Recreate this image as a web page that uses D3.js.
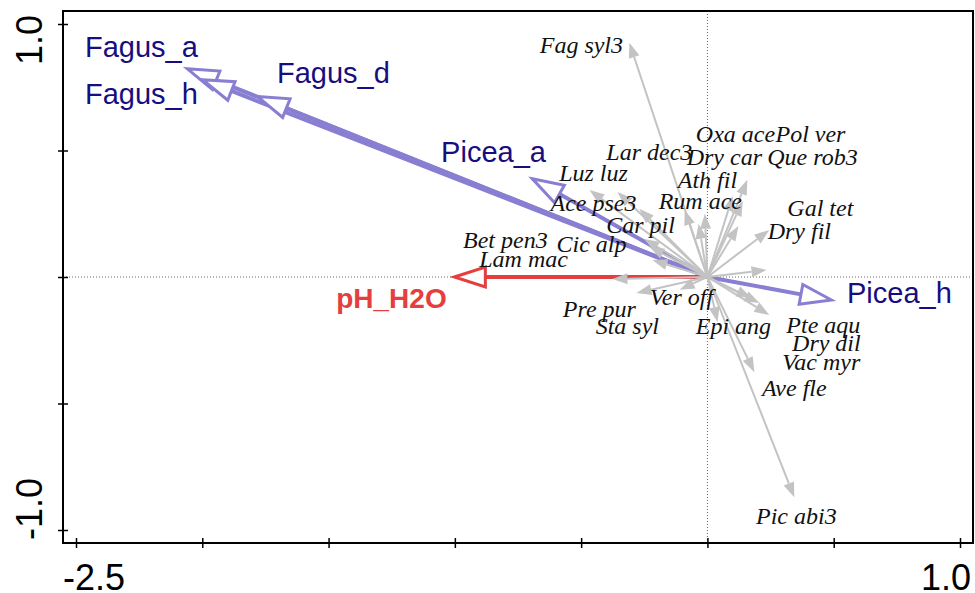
<!DOCTYPE html>
<html>
<head>
<meta charset="utf-8">
<script src="https://cdn.jsdelivr.net/npm/d3@7"></script>
<style>
  body { margin: 0; background: #fff; }
</style>
</head>
<body>
<svg id="chart" width="975" height="593"></svg>
<script>
// environmental variables (arrow tips, label centres, in axis units)
const envNames  = ['Fagus_a', 'Fagus_h', 'Fagus_d', 'Picea_a', 'Picea_h', 'pH_H2O'];
const envX      = [-2.059, -1.999, -1.781, -0.693, 0.491, -1.002];
const envY      = [0.823, 0.780, 0.713, 0.388, -0.091, 0.0];
const envLabelX = [-2.241, -2.241, -1.481, -0.847, 0.760, -1.251];
const envLabelY = [0.911, 0.724, 0.808, 0.495, -0.063, -0.083];

// species scores
const speciesNames = ['Fag syl3', 'Lar dec3', 'Luz luz', 'Oxa ace', 'Pol ver', 'Dry car', 'Que rob3',
  'Ath fil', 'Rum ace', 'Ace pse3', 'Car pil', 'Gal tet', 'Dry fil', 'Bet pen3', 'Cic alp', 'Lam mac',
  'Ver off', 'Pre pur', 'Sta syl', 'Epi ang', 'Pte aqu', 'Dry dil', 'Vac myr', 'Ave fle', 'Pic abi3'];
const speciesX = [-0.309, -0.090, -0.467, 0.158, 0.140, 0.100, 0.123,
  -0.010, -0.035, -0.356, -0.270, 0.245, 0.234, -0.250, -0.230, -0.218,
  -0.110, -0.376, -0.281, 0.040, 0.245, 0.206, 0.174, 0.186, 0.344];
const speciesY = [0.926, 0.265, 0.344, 0.384, 0.300, 0.320, 0.202,
  0.250, 0.210, 0.336, 0.270, 0.186, 0.028, 0.150, 0.120, 0.067,
  -0.050, -0.008, -0.063, -0.178, -0.150, -0.103, -0.083, -0.376, -0.871];
const speciesLabelX = [-0.499, -0.230, -0.451, 0.111, 0.408, 0.067, 0.416,
  0.000, -0.028, -0.451, -0.265, 0.447, 0.364, -0.800, -0.459, -0.728,
  -0.103, -0.428, -0.317, 0.103, 0.459, 0.471, 0.451, 0.344, 0.352];
const speciesLabelY = [0.918, 0.495, 0.412, 0.566, 0.566, 0.475, 0.475,
  0.384, 0.301, 0.293, 0.206, 0.273, 0.182, 0.146, 0.131, 0.071,
  -0.079, -0.123, -0.194, -0.194, -0.190, -0.261, -0.333, -0.439, -0.942];

const xTicks = [-2.5, -2.0, -1.5, -1.0, -0.5, 0, 0.5, 1.0];
const yTicks = [-1.0, -0.5, 0, 0.5, 1.0];
const xTickLabels = ['-2.5', '1.0'];
const yTickLabels = ['-1.0', '1.0'];

const svg = d3.select('#chart');
const frame = {left: 63, right: 973, top: 11, bottom: 543};

const x = d3.scaleLinear().domain([-2.5, 1.0]).range([76, 960]);
const y = d3.scaleLinear().domain([-1.0, 1.0]).range([530, 24]);

const envColor = 'rgb(136,126,210)';
const envText = 'rgb(22,14,128)';
const phColor = 'rgb(228,62,62)';
const spColor = '#c3c3c3';

// zero lines
svg.append('line')
  .attr('x1', x(0)).attr('x2', x(0)).attr('y1', frame.top).attr('y2', frame.bottom)
  .attr('stroke', '#666').attr('stroke-width', 1).attr('stroke-dasharray', '1,2');
svg.append('line')
  .attr('x1', frame.left).attr('x2', frame.right).attr('y1', y(0)).attr('y2', y(0))
  .attr('stroke', '#666').attr('stroke-width', 1).attr('stroke-dasharray', '1,2');

function head(x0, y0, x1, y1, len, half) {
  const dx = x1 - x0, dy = y1 - y0;
  const d = Math.sqrt(dx * dx + dy * dy);
  const ux = dx / d, uy = dy / d;
  const bx = x1 - ux * len, by = y1 - uy * len;
  return {
    base: [bx, by],
    pts: [[x1, y1], [bx - uy * half, by + ux * half], [bx + uy * half, by - ux * half]]
  };
}

// environmental arrows
envNames.forEach((name, i) => {
  const col = name === 'pH_H2O' ? phColor : envColor;
  const x0 = x(0), y0 = y(0), x1 = x(envX[i]), y1 = y(envY[i]);
  const h = head(x0, y0, x1, y1, 31, 10);
  svg.append('line')
    .attr('x1', x0).attr('y1', y0).attr('x2', h.base[0]).attr('y2', h.base[1])
    .attr('stroke', col).attr('stroke-width', 4);
  svg.append('polygon')
    .attr('points', h.pts.map(p => p.join(',')).join(' '))
    .attr('fill', '#fff').attr('stroke', col).attr('stroke-width', 3)
    .attr('stroke-linejoin', 'miter');
});

// species arrows
speciesNames.forEach((name, i) => {
  const x0 = x(0), y0 = y(0), x1 = x(speciesX[i]), y1 = y(speciesY[i]);
  const h = head(x0, y0, x1, y1, 15, 5.5);
  svg.append('line')
    .attr('x1', x0).attr('y1', y0).attr('x2', h.base[0]).attr('y2', h.base[1])
    .attr('stroke', spColor).attr('stroke-width', 2);
  svg.append('polygon')
    .attr('points', h.pts.map(p => p.join(',')).join(' '))
    .attr('fill', spColor);
});

// species labels
svg.append('g').selectAll('text')
  .data(speciesNames)
  .enter().append('text')
  .attr('x', (d, i) => x(speciesLabelX[i]))
  .attr('y', (d, i) => y(speciesLabelY[i]))
  .attr('dy', '0.35em')
  .attr('text-anchor', 'middle')
  .style('font-family', "'Liberation Serif', 'Times New Roman', serif")
  .style('font-style', 'italic')
  .style('font-size', '24px')
  .attr('fill', '#111')
  .text(d => d);

// env labels
svg.append('g').selectAll('text')
  .data(envNames)
  .enter().append('text')
  .attr('x', (d, i) => x(envLabelX[i]))
  .attr('y', (d, i) => y(envLabelY[i]))
  .attr('dy', '0.35em')
  .attr('text-anchor', 'middle')
  .style('font-family', "'Liberation Sans', Arial, sans-serif")
  .style('font-size', d => d === 'pH_H2O' ? '28px' : '29px')
  .style('font-weight', d => d === 'pH_H2O' ? 'bold' : 'normal')
  .attr('fill', d => d === 'pH_H2O' ? phColor : envText)
  .text(d => d);

// frame
svg.append('rect')
  .attr('x', frame.left).attr('y', frame.top)
  .attr('width', frame.right - frame.left).attr('height', frame.bottom - frame.top)
  .attr('fill', 'none').attr('stroke', '#000').attr('stroke-width', 2);

// ticks crossing the axes
svg.append('g')
  .attr('transform', `translate(0,${frame.bottom - 5})`)
  .call(d3.axisBottom(x).tickValues(xTicks).tickSize(10).tickFormat(''))
  .call(g => g.select('.domain').remove())
  .call(g => g.selectAll('line').attr('stroke', '#000').attr('stroke-width', 1.5));
svg.append('g')
  .attr('transform', `translate(${frame.left + 5},0)`)
  .call(d3.axisLeft(y).tickValues(yTicks).tickSize(10).tickFormat(''))
  .call(g => g.select('.domain').remove())
  .call(g => g.selectAll('line').attr('stroke', '#000').attr('stroke-width', 1.5));

// tick labels (only the extremes are printed)
const tickFont = "'Liberation Sans', Arial, sans-serif";
svg.append('text')
  .attr('x', frame.left).attr('y', 590)
  .attr('text-anchor', 'start')
  .style('font-family', tickFont).style('font-size', '36px')
  .text(xTickLabels[0]);
svg.append('text')
  .attr('x', frame.right - 2).attr('y', 590)
  .attr('text-anchor', 'end')
  .style('font-family', tickFont).style('font-size', '36px')
  .text(xTickLabels[1]);
svg.append('text')
  .attr('transform', `translate(42,${frame.bottom - 3}) rotate(-90)`)
  .attr('text-anchor', 'start')
  .style('font-family', tickFont).style('font-size', '36px')
  .text(yTickLabels[0]);
svg.append('text')
  .attr('transform', `translate(42,${frame.top + 4}) rotate(-90)`)
  .attr('text-anchor', 'end')
  .style('font-family', tickFont).style('font-size', '36px')
  .text(yTickLabels[1]);
</script>
</body>
</html>
